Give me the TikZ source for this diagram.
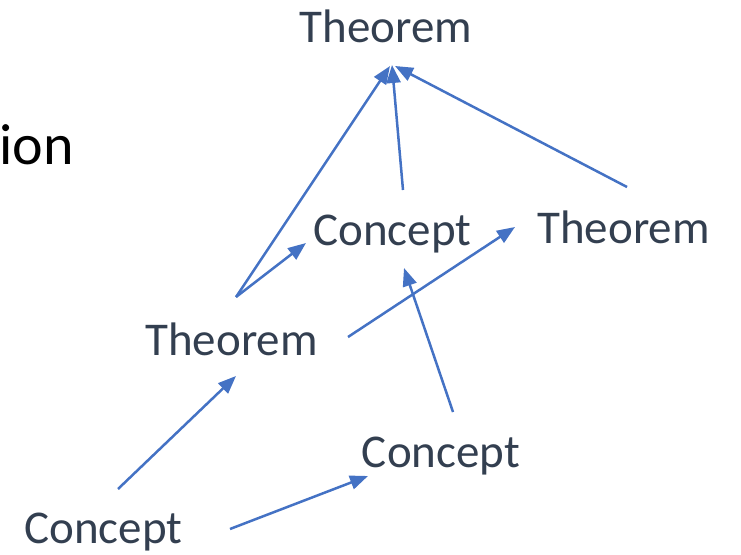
\documentclass[tikz,border=0pt]{standalone}
\usepackage{fontspec}
\setmainfont{Carlito}
\usepackage{tikz}
\usetikzlibrary{arrows.meta}
\definecolor{mapslate}{HTML}{333F50}
\definecolor{mapblue}{HTML}{4472C4}

\begin{document}
\begin{tikzpicture}[x=1pt,y=-1pt,term/.style={anchor=base,inner sep=0pt,text=mapslate,font=\fontsize{47}{56}\selectfont},arr/.style={-{Triangle[length=18pt,width=14pt]},line width=2.5pt,draw=mapblue}]
\useasboundingbox (0,0) rectangle (741,554);
\node[anchor=base east,inner sep=0pt,font=\fontsize{58}{68}\selectfont] (cut) at (74,164) {ion};
\node[term] (top) at (386,42) {Theorem};
\node[term] (cm) at (392.5,245) {Concept};
\node[term] (tr) at (623.5,243) {Theorem};
\node[term] (tl) at (231.5,355) {Theorem};
\node[term] (cr) at (441,467) {Concept};
\node[term] (cb) at (103.5,543) {Concept};
\draw[arr] ([shift={(4.5,-58)}]tl.base) -- ([shift={(4,24)}]top.base);
\draw[arr] ([shift={(4.5,-58)}]tl.base) -- ([shift={(-86.5,-2)}]cm.base);
\draw[arr] ([shift={(10.5,-55)}]cm.base) -- ([shift={(6,23)}]top.base);
\draw[arr] ([shift={(3.5,-56)}]tr.base) -- ([shift={(9,24)}]top.base);
\draw[arr] ([shift={(116.5,-18)}]tl.base) -- ([shift={(-108.5,-16)}]tr.base);
\draw[arr] ([shift={(12,-55)}]cr.base) -- ([shift={(11.5,23)}]cm.base);
\draw[arr] ([shift={(14.5,-54)}]cb.base) -- ([shift={(4.5,21)}]tl.base);
\draw[arr] ([shift={(126.5,-14)}]cb.base) -- ([shift={(-73,9)}]cr.base);
\end{tikzpicture}
\end{document}
